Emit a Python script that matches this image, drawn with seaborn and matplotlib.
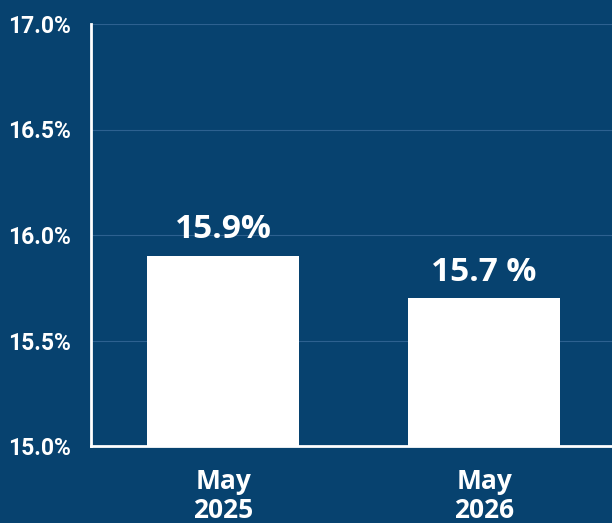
import matplotlib
matplotlib.use("Agg")
import matplotlib.pyplot as plt
import seaborn as sns
import pandas as pd

categories = ["May\n2025", "May\n2026"]
values = [15.9, 15.7]
value_labels = ["15.9%", "15.7 %"]
yticks = [15.0, 15.5, 16.0, 16.5, 17.0]
ytick_labels = ["15.0%", "15.5%", "16.0%", "16.5%", "17.0%"]

BG = "#07426f"
sns.set_theme(style="white")
plt.rcParams['font.family'] = ['Roboto', 'DejaVu Sans']

df = pd.DataFrame({"cat": categories, "val": values})

fig = plt.figure(figsize=(6.12, 5.23), dpi=100, facecolor=BG)
ax = fig.add_axes([91/612, 1-446/523, 1-91/612, (446-24)/523])
ax.set_facecolor(BG)

sns.barplot(data=df, x="cat", y="val", color="white", saturation=1, width=0.58, ax=ax, zorder=3)
for p in ax.patches:
    p.set_edgecolor("none")
    p.set_facecolor("white")

ax.set_ylim(15.0, 17.0)
ax.set_xlim(-0.506, 1.49)
ax.set_yticks(yticks)
ax.set_yticklabels(ytick_labels, fontsize=16.5, fontweight="bold", color="white")
ax.tick_params(axis="y", length=0, pad=60)
ax.tick_params(axis="x", length=0, pad=16)
for lab in ax.get_xticklabels():
    lab.set_fontsize(19)
    lab.set_fontweight("bold")
    lab.set_color("white")
    lab.set_family(["Open Sans", "DejaVu Sans"])
    lab.set_linespacing(1.1)
for lab in ax.get_yticklabels():
    lab.set_horizontalalignment("left")
ax.set_xlabel("")
ax.set_ylabel("")

ax.grid(axis="y", color="#2d6190", linewidth=0.8, zorder=0)
ax.set_axisbelow(True)
for s in ["top", "right"]:
    ax.spines[s].set_visible(False)
for s in ["left", "bottom"]:
    ax.spines[s].set_color("white")
    ax.spines[s].set_linewidth(2)
    ax.spines[s].set_zorder(5)

for i, (v, t) in enumerate(zip(values, value_labels)):
    ax.annotate(t, (i, v), xytext=(0, 7), textcoords="offset points",
                ha="center", va="bottom", fontsize=24, fontweight="bold",
                color="white", family=["Open Sans", "DejaVu Sans"])

fig.savefig("out.png", dpi=100, facecolor=BG)
